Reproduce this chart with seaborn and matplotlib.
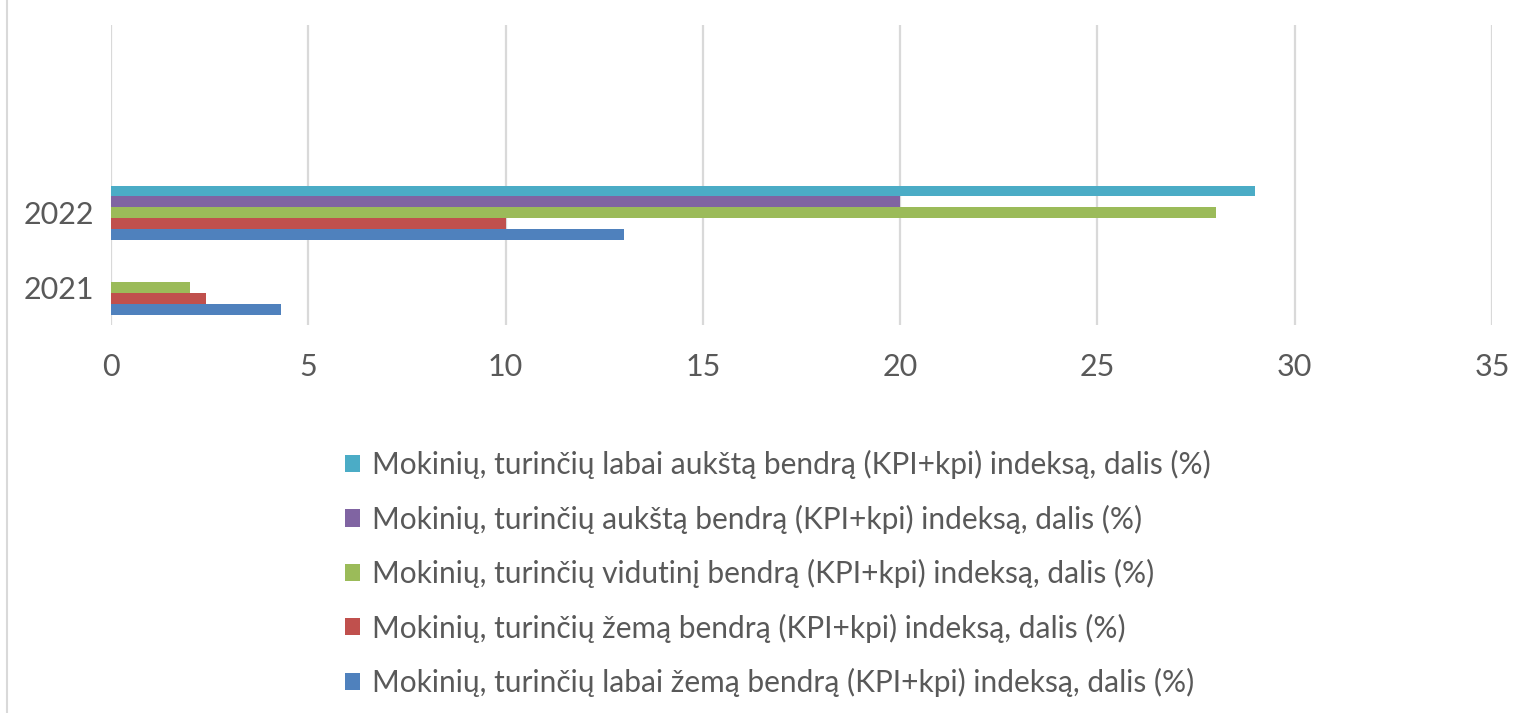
import matplotlib
matplotlib.use("Agg")
import matplotlib.pyplot as plt
from matplotlib.lines import Line2D
import seaborn as sns
import pandas as pd

categories = ["  ", " ", "2022", "2021"]
series = [
    "Mokinių, turinčių labai aukštą bendrą (KPI+kpi) indeksą, dalis (%)",
    "Mokinių, turinčių aukštą bendrą (KPI+kpi) indeksą, dalis (%)",
    "Mokinių, turinčių vidutinį bendrą (KPI+kpi) indeksą, dalis (%)",
    "Mokinių, turinčių žemą bendrą (KPI+kpi) indeksą, dalis (%)",
    "Mokinių, turinčių labai žemą bendrą (KPI+kpi) indeksą, dalis (%)",
]
values_2022 = [29, 20, 28, 10, 13]
values_2021 = [0, 0, 2, 2.4, 4.3]
colors = ["#4BACC6", "#8064A2", "#9BBB59", "#C0504D", "#4F81BD"]
xticks = [0, 5, 10, 15, 20, 25, 30, 35]

rows = []
for s, v22, v21 in zip(series, values_2022, values_2021):
    rows.append({"year": "2022", "series": s, "value": v22})
    rows.append({"year": "2021", "series": s, "value": v21})
    rows.append({"year": " ", "series": s, "value": 0})
    rows.append({"year": "  ", "series": s, "value": 0})
df = pd.DataFrame(rows)

sns.set_style("white")
plt.rcParams["font.family"] = ["Lato", "DejaVu Sans"]
text_color = "#595959"
grid_color = "#D9D9D9"

fig = plt.figure(figsize=(15.19, 7.13), dpi=100)
ax = fig.add_axes([111 / 1519, 1 - 325 / 713, (1492 - 111) / 1519, 300 / 713])

sns.barplot(data=df, y="year", x="value", hue="series", order=categories,
            hue_order=series, palette=colors, orient="h", width=0.72,
            gap=0, dodge=True, saturation=1, errorbar=None, ax=ax,
            edgecolor="none", linewidth=0)

ax.set_xlim(0, 35)
ax.set_xticks(xticks)
ax.set_xticklabels([str(t) for t in xticks])
ax.xaxis.grid(True, color=grid_color, linewidth=1.6)
ax.yaxis.grid(False)
ax.set_axisbelow(True)
for sp in ax.spines.values():
    sp.set_visible(False)
ax.tick_params(axis="x", length=0, pad=20, labelsize=22, labelcolor=text_color)
ax.tick_params(axis="y", length=0, pad=12, labelsize=22, labelcolor=text_color)
ax.set_xlabel("")
ax.set_ylabel("")

handles, labels = ax.get_legend_handles_labels()
ax.get_legend().remove()
fig.legend(handles, labels, loc="upper left", bbox_to_anchor=(345 / 1519, 1 - 450 / 713),
           frameon=False, fontsize=21.5, labelcolor=text_color, handlelength=0.5,
           handleheight=0.5, handletextpad=0.4, labelspacing=0.85,
           borderpad=0, borderaxespad=0)

fig.add_artist(Line2D([7 / 1519, 7 / 1519], [0, 1], color=grid_color, linewidth=1.5))

fig.savefig("out.png", dpi=100)
